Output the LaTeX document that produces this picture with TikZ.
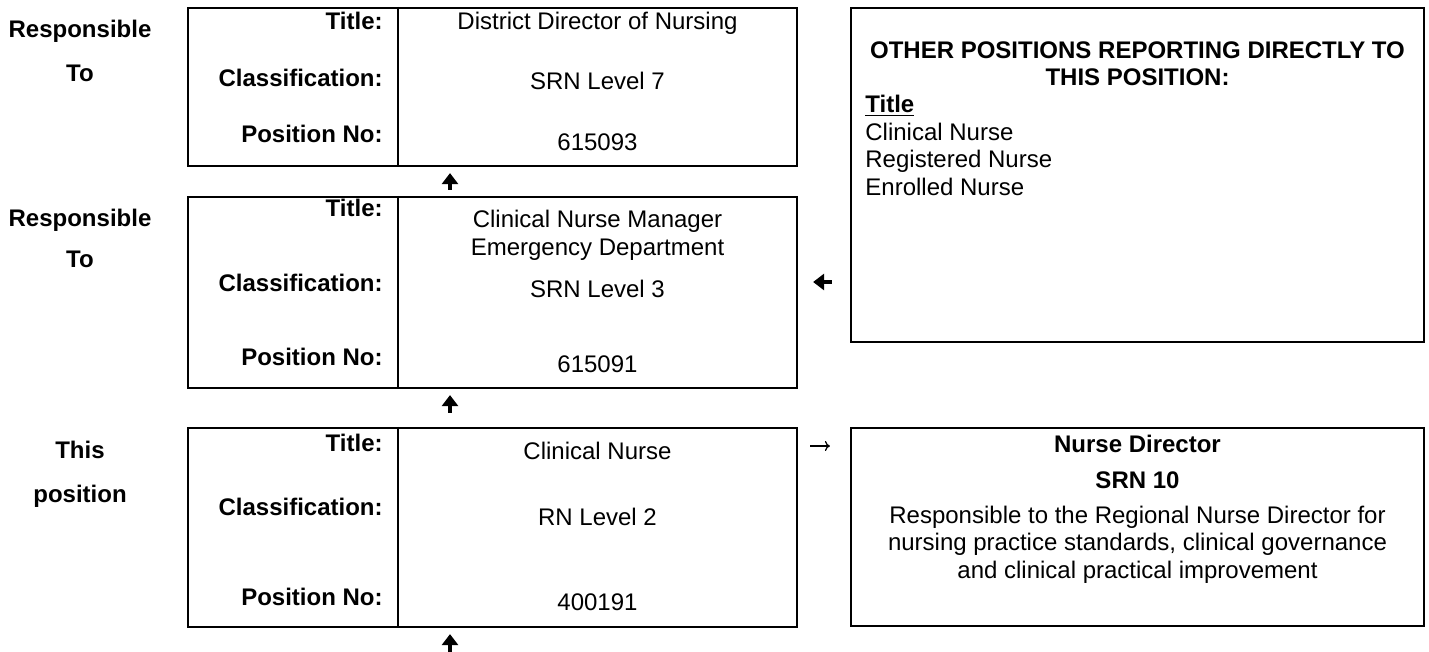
\documentclass[tikz,border=0pt]{standalone}
\usepackage{fontspec}
\setmainfont{Liberation Sans}
\usetikzlibrary{calc,positioning,arrows.meta}
\newcommand{\nodefont}{\fontsize{12}{13.8}\selectfont}
\tikzset{>={Triangle[width=8pt,length=5.5pt]}}
\tikzstyle{box} = [draw=black, line width=1.1pt, rectangle, inner sep=0pt]
\tikzstyle{lbl} = [font=\nodefont\bfseries, anchor=base east, inner sep=0pt]
\tikzstyle{val} = [font=\nodefont, anchor=base, inner sep=0pt, align=center]
\tikzstyle{side} = [font=\nodefont\bfseries, anchor=base, inner sep=0pt]
\tikzstyle{bigarrow} = [->, line width=2.2pt]
\tikzstyle{thinarrow} = [-{To[length=2.5pt,width=5pt]}, line width=0.6pt]

\begin{document}
\begin{tikzpicture}[x=0.5pt, y=-0.5pt]
    \useasboundingbox (0,0) rectangle (1429,652);

    \node[box, minimum width=304.5pt, minimum height=79pt] (ddn) at (492.5,87) {};
    \node[box, minimum width=304.5pt, minimum height=95.5pt] (cnm) at (492.5,292.5) {};
    \node[box, minimum width=304.5pt, minimum height=99.5pt] (cn) at (492.5,527.5) {};
    \node[box, minimum width=286.5pt, minimum height=167pt] (others) at (1137.5,175) {};
    \node[box, minimum width=286.5pt, minimum height=99pt] (nd) at (1137.5,527) {};

    \coordinate (divx) at (398,0);
    \foreach \b in {ddn,cnm,cn}
        \draw[line width=1.1pt] (\b.north -| divx) -- (\b.south -| divx);

    \node[side] (resp1) at (80,38) {Responsible};
    \node[side] (to1) at (80,82) {To};
    \node[side] (resp2) at (80,227) {Responsible};
    \node[side] (to2) at (80,268) {To};
    \node[side] (this) at (80,458) {This};
    \node[side] (pos) at (80,502) {position};

    \node[lbl] (ddnt) at (383,30) {Title:};
    \node[lbl] (ddnc) at (383,87) {Classification:};
    \node[lbl] (ddnp) at (383,143) {Position No:};
    \node[val] (ddntv) at (597.5,30) {District Director of Nursing};
    \node[val] (ddncv) at (597.5,90) {SRN Level 7};
    \node[val] (ddnpv) at (597.5,151) {615093};

    \node[lbl] (cnmt) at (383,217) {Title:};
    \node[lbl] (cnmc) at (383,292) {Classification:};
    \node[lbl] (cnmp) at (383,365) {Position No:};
    \node[val, anchor=north] (cnmtv) at (597.5,210) {Clinical Nurse Manager\\Emergency Department};
    \node[val] (cnmcv) at (597.5,298) {SRN Level 3};
    \node[val] (cnmpv) at (597.5,372) {615091};

    \node[lbl] (cnt) at (383,451) {Title:};
    \node[lbl] (cnc) at (383,515) {Classification:};
    \node[lbl] (cnp) at (383,605) {Position No:};
    \node[val] (cntv) at (597.5,459) {Clinical Nurse};
    \node[val] (cncv) at (597.5,525) {RN Level 2};
    \node[val] (cnpv) at (597.5,610) {400191};

    \node[val, font=\nodefont\bfseries, anchor=north] (othhd) at (1137.5,41) {OTHER POSITIONS REPORTING DIRECTLY TO\\THIS POSITION:};
    \node[val, align=left, anchor=north west] (othlist) at (865,95) {\underline{\textbf{Title}}\\Clinical Nurse\\Registered Nurse\\Enrolled Nurse};

    \node[val, font=\nodefont\bfseries] (ndt) at (1137.5,452) {Nurse Director};
    \node[val, font=\nodefont\bfseries] (ndc) at (1137.5,488) {SRN 10};
    \node[val, anchor=north] (ndd) at (1137.5,505.5) {Responsible to the Regional Nurse Director for\\nursing practice standards, clinical governance\\and clinical practical improvement};

    \coordinate (arrx) at (450,0);
    \draw[bigarrow, shorten <=3pt, shorten >=3pt] (cnm.north -| arrx) -- (ddn.south -| arrx);
    \draw[bigarrow, shorten <=7pt, shorten >=3pt] (cn.north -| arrx) -- (cnm.south -| arrx);
    \coordinate (below) at (450,660);
    \draw[bigarrow, shorten >=3pt] (below) -- (cn.south -| arrx);

    \coordinate (ly) at (0,282);
    \draw[bigarrow, shorten <=9pt, shorten >=7.5pt] (others.west |- ly) -- (cnm.east |- ly);
    \coordinate (ry) at (0,446);
    \draw[thinarrow, shorten <=6pt, shorten >=10pt] (cn.east |- ry) -- (nd.west |- ry);

\end{tikzpicture}
\end{document}
